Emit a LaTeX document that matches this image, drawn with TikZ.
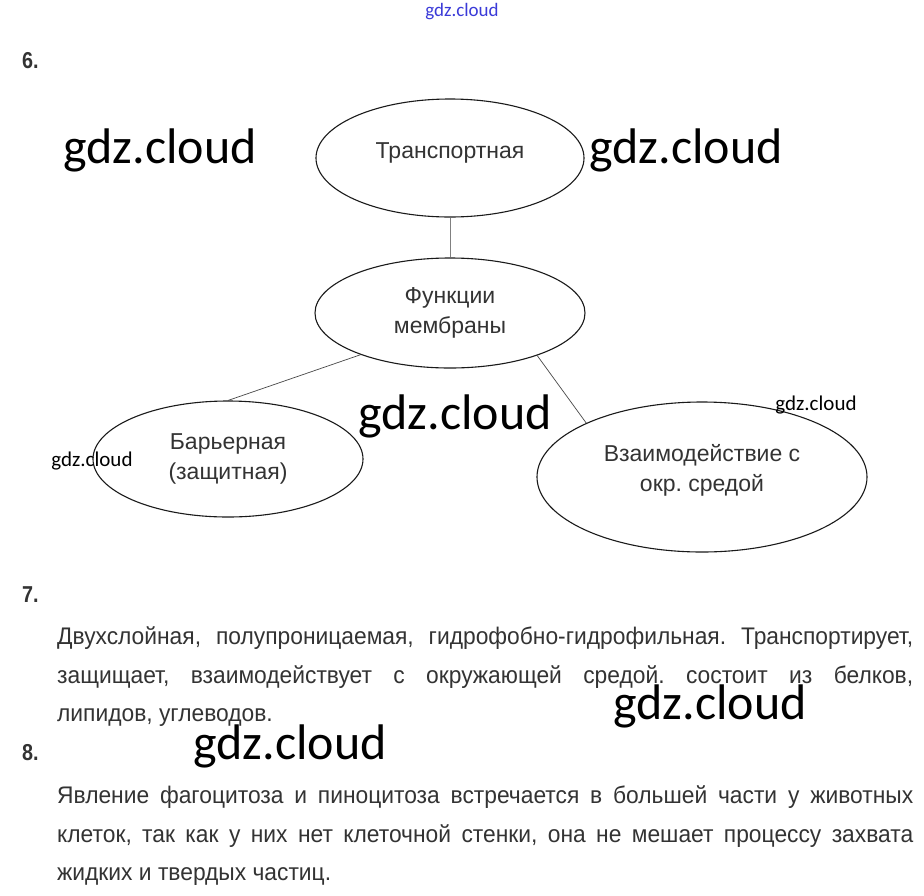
\documentclass[tikz,border=0pt]{standalone}
\usepackage{fontspec}
\setmainfont{Liberation Sans}
\newfontfamily\narrowfont[FakeStretch=0.86]{Liberation Sans}
\newfontfamily\bodyfont[FakeStretch=0.95]{Liberation Sans}
\newfontfamily\wmfont{Carlito}
\usetikzlibrary{shapes.geometric}
\definecolor{ink}{HTML}{1A1A1A}
\definecolor{txtgray}{HTML}{333333}
\definecolor{linkgray}{HTML}{808080}
\definecolor{wmblue}{HTML}{3A3AD8}
\tikzset{
  bubbletext/.style={align=center,inner sep=0pt,
                     font=\fontsize{23}{30}\selectfont,text=txtgray},
  bubble/.style={ellipse,draw=ink,line width=1.1pt,bubbletext},
  link/.style={draw=linkgray,line width=0.9pt},
  thinlink/.style={draw=ink!80,line width=0.7pt},
  wmark/.style={font=\wmfont\fontsize{50}{50}\selectfont,text=black,inner sep=0pt},
  smallmark/.style={font=\wmfont\fontsize{21}{21}\selectfont,text=black,inner sep=0pt},
  qnum/.style={font=\narrowfont\bfseries\fontsize{23}{23}\selectfont,text=txtgray,
               inner sep=0pt,anchor=base west},
  bodyline/.style={font=\bodyfont\fontsize{24}{24}\selectfont,text=txtgray,
                   inner sep=0pt,anchor=base west}
}
\newcommand{\fullline}[1]{\makebox[856pt][s]{#1}}
\frenchspacing

\begin{document}
\begin{tikzpicture}[x=1pt,y=-1pt]
  \fill[white] (0,0) rectangle (924,895);
  \useasboundingbox (0,0) rectangle (924,895);

  % diagram
  \node[qnum] (q6) at (22,68) {6.};
  \node[bubble,minimum width=268pt,minimum height=118pt,
        label={[bubbletext,yshift=5pt]center:Транспортная}] (trans) at (450,158) {};
  \node[bubble,minimum width=270pt,minimum height=110pt] (func) at (450,313) {Функции\\мембраны};
  \node[bubble,minimum width=270pt,minimum height=116pt] (barr) at (228,459) {Барьерная\\(защитная)};
  \node[bubble,minimum width=330pt,minimum height=150pt,
        label={[bubbletext,yshift=7pt]center:{Взаимодействие с\\окр. средой}}] (inter) at (702,477) {};

  \draw[link] (trans) -- (func);
  \draw[thinlink] (func.205) -- (barr.north);
  \draw[thinlink] (func.334) -- (inter.155);

  % answers
  \node[qnum] (q7) at (22,602) {7.};
  \node[bodyline] (p7a) at (57,644) {\fullline{Двухслойная, полупроницаемая, гидрофобно-гидрофильная. Транспортирует,}};
  \node[bodyline] (p7b) at (57,683) {\fullline{защищает, взаимодействует с окружающей средой. состоит из белков,}};
  \node[bodyline] (p7c) at (57,721) {липидов, углеводов.};

  \node[qnum] (q8) at (22,760) {8.};
  \node[bodyline] (p8a) at (57,803) {\fullline{Явление фагоцитоза и пиноцитоза встречается в большей части у животных}};
  \node[bodyline] (p8b) at (57,842) {\fullline{клеток, так как у них нет клеточной стенки, она не мешает процессу захвата}};
  \node[bodyline] (p8c) at (57,880) {жидких и твердых частиц.};

  % watermarks
  \node[font=\wmfont\fontsize{19}{19}\selectfont,text=wmblue,inner sep=0pt] (wm0) at (462,12) {gdz.cloud};
  \foreach \x/\y [count=\i] in {160/150,686/150,455/416,710/706,290/746}
    \node[wmark] (wm\i) at (\x,\y) {gdz.cloud};
  \node[smallmark] (wm6) at (816,405) {gdz.cloud};
  \node[smallmark] (wm7) at (92,461) {gdz.cloud};
\end{tikzpicture}
\end{document}
